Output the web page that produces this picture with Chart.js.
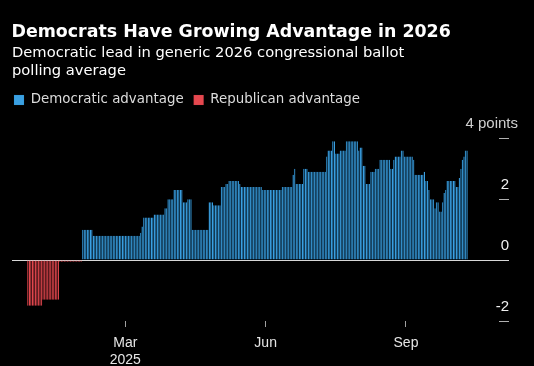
<!DOCTYPE html>
<html><head><meta charset="utf-8">
<script src="https://cdn.jsdelivr.net/npm/chart.js@4"></script>
<style>
html,body{margin:0;padding:0;background:#000;}
#wrap{position:relative;width:534px;height:366px;overflow:hidden;background:#000;}
#title{position:absolute;left:11.5px;top:20.6px;font:bold 17.4px/20px "DejaVu Sans";color:#fff;white-space:nowrap;}
#sub{position:absolute;left:12px;top:43.2px;font:14.7px/18px "DejaVu Sans";color:#fff;white-space:nowrap;}
canvas{position:absolute;left:0;top:0;}
</style></head><body>
<div id="wrap">
<canvas id="c" width="534" height="366"></canvas>
<div id="title">Democrats Have Growing Advantage in 2026</div>
<div id="sub">Democratic lead in generic 2026 congressional ballot<br>polling average</div>
</div>
<script>
const startDate = '2024-12-27';
const seriesNames = ['Democratic advantage', 'Republican advantage'];
const advantage = [
  -1.5,-1.5,-1.5,-1.5,-1.5,-1.5,-1.5,-1.5,-1.5,-1.5,
  -1.3,-1.3,-1.3,-1.3,-1.3,-1.3,-1.3,-1.3,-1.3,-1.3,-1.3,
  -0.05,-0.05,-0.05,-0.05,-0.05,-0.05,-0.05,-0.05,-0.05,-0.05,-0.05,-0.05,-0.05,-0.05,-0.05,
  1.0,1.0,1.0,1.0,1.0,1.0,1.0,
  0.8,0.8,0.8,0.8,0.8,0.8,0.8,0.8,0.8,0.8,
  0.8,0.8,0.8,0.8,0.8,0.8,0.8,0.8,0.8,0.8,
  0.8,0.8,0.8,0.8,0.8,0.8,0.8,0.8,0.8,0.8,
  0.8,
  0.9,1.1,
  1.4,1.4,1.4,1.4,1.4,1.4,1.4,
  1.5,1.5,1.5,1.5,1.5,1.5,1.5,
  1.7,1.7,
  2.0,2.0,2.0,2.0,
  2.3,2.3,2.3,2.3,2.3,2.3,
  1.9,1.9,1.9,
  2.0,2.0,2.0,
  1.0,1.0,1.0,1.0,1.0,1.0,1.0,1.0,1.0,1.0,1.0,
  1.9,1.9,1.9,
  1.8,1.8,1.8,1.8,1.8,
  2.4,2.4,2.4,
  2.5,2.5,
  2.6,2.6,2.6,2.6,2.6,2.6,2.6,
  2.5,
  2.4,2.4,2.4,2.4,2.4,2.4,2.4,2.4,2.4,2.4,2.4,2.4,2.4,2.4,
  2.3,2.3,2.3,2.3,2.3,2.3,2.3,2.3,2.3,2.3,2.3,2.3,2.3,
  2.4,2.4,2.4,2.4,2.4,2.4,2.4,
  2.8,3.0,
  2.5,2.5,2.5,2.5,2.5,
  3.0,3.0,3.0,
  2.9,2.9,2.9,2.9,2.9,2.9,2.9,2.9,2.9,2.9,2.9,2.9,
  3.4,
  3.6,3.6,3.6,
  3.9,3.9,
  3.5,3.5,3.5,
  3.6,3.6,3.6,3.6,
  3.9,3.9,3.9,3.9,3.9,3.9,3.9,3.9,
  3.6,
  3.7,3.7,
  3.1,3.1,
  2.5,2.5,2.5,
  2.9,2.9,2.9,
  3.0,3.0,3.0,
  3.3,3.3,3.3,3.3,3.3,3.3,3.3,
  3.0,3.0,
  3.3,
  3.4,3.4,3.4,3.4,
  3.6,3.6,
  3.4,3.4,3.4,3.4,3.4,3.4,
  3.3,
  2.8,2.8,2.8,2.8,2.8,2.8,
  2.9,
  2.6,2.6,
  2.3,
  2.0,2.0,2.0,
  1.7,
  1.9,1.9,
  1.6,1.6,
  1.9,2.2,2.3,
  2.6,2.6,2.6,2.6,2.6,2.6,
  2.4,2.4,
  2.7,3.0,3.3,3.4,
  3.6,3.6
];
const xTickDates = ['2025-03-01', '2025-06-01', '2025-09-01'];
const xTickLabels = [['Mar', '2025'], 'Jun', 'Sep'];
const yTickValues = [-2, 0, 2, 4];
const yTickLabels = ['-2', '0', '2', ''];
const yUnitLabel = '4 points';

const dayOf = d => Math.round((Date.parse(d) - Date.parse(startDate)) / 86400000);
const xTickDays = xTickDates.map(dayOf);

const demData = advantage.map((v, i) => ({x: i, y: v > 0 ? v : null}));
const repData = advantage.map((v, i) => ({x: i, y: v < 0 ? v : null}));

const yFont = {family: 'Liberation Sans', size: 15};
const xFont = {family: 'Liberation Sans', size: 14};

new Chart(document.getElementById('c'), {
  type: 'bar',
  data: {
    datasets: [
      {label: seriesNames[0], data: demData, backgroundColor: '#3aa0e2', borderColor: '#1b5f90',
       borderWidth: {left: 0.5, right: 0, top: 0, bottom: 0}, inflateAmount: 0,
       barPercentage: 1, categoryPercentage: 1},
      {label: seriesNames[1], data: repData, backgroundColor: '#e5484f', borderColor: '#8e2a30',
       borderWidth: {left: 0.5, right: 0, top: 0, bottom: 0}, inflateAmount: 0,
       barPercentage: 1, categoryPercentage: 1}
    ]
  },
  options: {
    responsive: false,
    animation: false,
    devicePixelRatio: 1,
    layout: {padding: {top: 83.3, left: 4, right: 16, bottom: 0}},
    plugins: {
      legend: {display: true, position: 'top', align: 'start',
        labels: {boxWidth: 10, boxHeight: 10, padding: 10, color: '#dcdcdc',
                 font: {family: 'DejaVu Sans', size: 13.4}}},
      title: {display: false},
      tooltip: {enabled: false}
    },
    scales: {
      x: {
        type: 'linear', min: -10.3, max: 309, offset: false, stacked: true,
        grid: {display: true, drawOnChartArea: false, drawTicks: true, tickLength: 6,
               tickColor: '#a0a0a0', offset: false},
        border: {display: false},
        afterBuildTicks: s => { s.ticks = xTickDays.map(v => ({value: v})); },
        ticks: {callback: (v, i) => xTickLabels[i], color: '#e6e6e6', font: xFont,
                padding: 8, maxRotation: 0, autoSkip: false},
        afterFit: s => { s.height = 45; s.paddingLeft = 12; }
      },
      y: {
        position: 'right', min: -2, max: 4.71, stacked: true, z: 1, weight: 0,
        afterBuildTicks: s => { s.ticks = yTickValues.map(v => ({value: v})); },
        grid: {drawOnChartArea: true, drawTicks: true, tickLength: 10, lineWidth: 1,
               color: c => (c.tick && c.tick.value === 0) ? '#d8d8d8' : 'rgba(0,0,0,0)',
               tickColor: c => (c.tick && c.tick.value === 0) ? '#d8d8d8' : '#b0b0b0'},
        border: {display: false},
        ticks: {callback: (v, i) => yTickLabels[i], mirror: true, crossAlign: 'near', labelOffset: -14,
                padding: 10, color: '#f0f0f0', font: yFont},
        afterFit: s => { s.width = 10; }
      },
      y2: {
        position: 'right', min: -2, max: 4.71, weight: 1,
        grid: {display: false}, border: {display: false},
        afterBuildTicks: s => { s.ticks = [{value: yTickValues[yTickValues.length - 1]}]; },
        ticks: {callback: () => yUnitLabel, mirror: true, crossAlign: 'near', labelOffset: -14, padding: 9,
                color: '#d0d0d0', font: yFont},
        afterFit: s => { s.width = 9; }
      }
    }
  }
});
</script>
</body></html>
